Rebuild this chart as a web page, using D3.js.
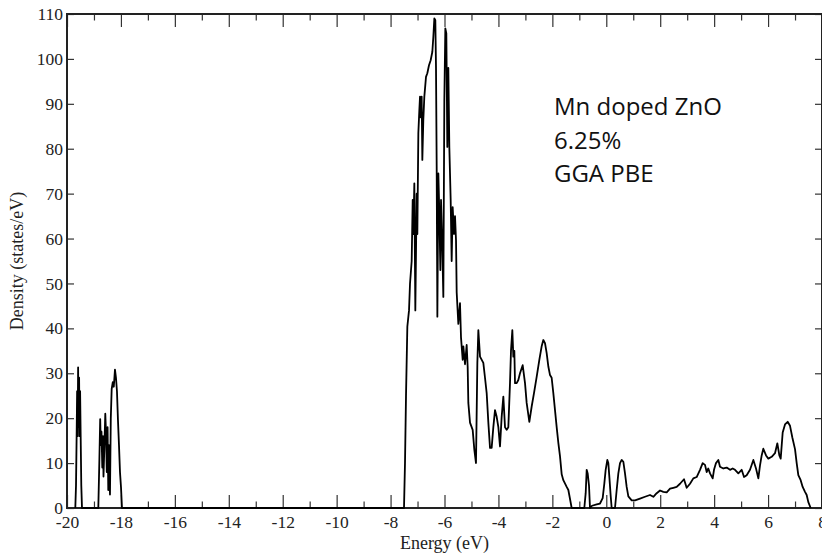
<!DOCTYPE html>
<html>
<head>
<meta charset="utf-8">
<script src="https://cdn.jsdelivr.net/npm/d3@7"></script>
<style>
  body { margin: 0; background: #fff; }
  .tick text { font-family: "Liberation Serif", serif; font-size: 17.5px; fill: #222; }
  .tick line { stroke: #333; stroke-width: 1.2; }
  .title { font-family: "Liberation Serif", serif; font-size: 18px; fill: #222; }
  .note { font-family: "Open Sans", sans-serif; font-size: 24px; fill: #111; }
</style>
</head>
<body>
<div id="chart"></div>
<script>
// DOS curve (energy in eV, density in states/eV)
const energy = [
  -19.692, -19.666, -19.644, -19.625, -19.607, -19.588, -19.57, -19.551, -19.533, -19.514, -19.492, -19.47, -19.444,
  -18.839, -18.802, -18.769, -18.747, -18.721, -18.691, -18.665, -18.647, -18.617, -18.58, -18.554, -18.525,
  -18.495, -18.469, -18.443, -18.406, -18.376, -18.343, -18.302, -18.265, -18.221, -18.184, -18.147, -18.11,
  -18.072, -18.035, -17.998, -17.961,
  -7.502, -7.465, -7.428, -7.378, -7.316, -7.279, -7.217, -7.18, -7.156, -7.119, -7.082, -7.032, -7.007,
  -6.97, -6.933, -6.908, -6.884, -6.847, -6.822, -6.785, -6.748, -6.686, -6.637, -6.575, -6.513, -6.451,
  -6.414, -6.377, -6.34, -6.315, -6.29, -6.265, -6.228, -6.191, -6.154, -6.129, -6.093, -6.043, -6.006,
  -5.969, -5.932, -5.895, -5.858, -5.821, -5.771, -5.734, -5.697, -5.647, -5.61, -5.573, -5.548, -5.487,
  -5.425, -5.388, -5.326, -5.301, -5.239, -5.178, -5.141, -5.116, -5.054, -4.955, -4.894, -4.832, -4.782,
  -4.745, -4.683, -4.56, -4.498, -4.436, -4.374, -4.312, -4.251, -4.189, -4.127, -4.065, -4.003, -3.942,
  -3.88, -3.818, -3.756, -3.694, -3.633, -3.571, -3.534, -3.484, -3.447, -3.41, -3.385, -3.323, -3.262,
  -3.2, -3.101, -3.014, -2.953, -2.854, -2.767, -2.681, -2.582, -2.483, -2.397, -2.335, -2.273, -2.211,
  -2.149, -2.087, -2.026, -1.964, -1.902, -1.84, -1.778, -1.716, -1.654, -1.593, -1.469, -1.407, -1.345,
  -1.284,
  -0.815, -0.764, -0.727, -0.69, -0.641, -0.604, -0.53, -0.356, -0.233, -0.134, -0.072, -0.023, 0.039,
  0.076, 0.113, 0.163, 0.2, 0.323, 0.385, 0.447, 0.509, 0.571, 0.632, 0.694, 0.756, 0.818, 0.942, 1.065,
  1.251, 1.436, 1.621, 1.745, 1.869, 1.993, 2.116, 2.24, 2.364, 2.487, 2.611, 2.734, 2.882, 2.981, 3.105,
  3.228, 3.352, 3.476, 3.575, 3.661, 3.723, 3.783, 3.847, 3.946, 3.995, 4.069, 4.155, 4.217, 4.341, 4.465,
  4.588, 4.687, 4.774, 4.897, 5.021, 5.108, 5.207, 5.33, 5.454, 5.553, 5.639, 5.701, 5.763, 5.824, 5.924,
  6.01, 6.134, 6.257, 6.344, 6.418, 6.468, 6.542, 6.628, 6.727, 6.814, 6.9, 6.999, 7.061, 7.122, 7.209,
  7.283, 7.37, 7.432, 7.493, 7.58
];
const density = [
  0, 5, 15.5, 26, 16, 31.3, 18, 29, 16, 26, 15.5, 5, 0,
  0, 10, 19.8, 14, 17, 9, 16, 7, 13, 21, 17, 8,
  18, 4, 14, 3, 20, 26.5, 28, 27, 30.8, 29, 26, 19.6,
  14, 8, 4.7, 0,
  0, 10, 24.8, 40.4, 44, 50, 55, 68.6, 61, 72.3, 44, 70, 61,
  83.5, 88.6, 91.6, 87, 91.6, 77.5, 86.5, 91.6, 96, 96.8, 98.6, 99.7, 101.6,
  104.9, 109, 108.6, 98, 76, 42.6, 74.5, 65.6, 53, 68.6, 61, 47, 90.8,
  106.8, 105.7, 80.4, 98, 80.4, 68.6, 55, 67, 61, 65, 59.6, 48, 41,
  45.6, 38, 33, 36, 32, 36.3, 31.5, 23.4, 19, 17.4, 13, 10, 32.3,
  39.6, 33.7, 32.3, 29, 25.6, 19, 13.4, 13.4, 18, 21.8, 20.3, 18, 13.7,
  20.3, 24.8, 18, 17.4, 18, 27.8, 35, 39.6, 33.7, 35, 27.8, 27.8, 28.5,
  30, 31.8, 27.8, 23.4, 19.2, 22.6, 25.6, 29.2, 33, 36, 37.4, 36.7, 34.5,
  31.5, 29.6, 29, 25.6, 21.8, 18, 14.5, 11.5, 7.5, 6.2, 4.7, 4, 2,
  0,
  0, 3.3, 8.5, 7.7, 5, 0, 0.5, 0.8, 1, 2.2, 5.5, 8.5, 10.7,
  10, 7, 2.7, 0, 0, 4, 7.7, 10, 10.7, 10.3, 7.7, 4.7, 2.6, 1.7, 1.7,
  2.1, 2.5, 2.9, 2.5, 3.3, 3.9, 3.6, 3.5, 4.3, 4.5, 4.7, 5.4, 6.4, 4.5, 5.4,
  6.6, 6.9, 8.5, 10, 9.6, 8, 8.8, 7.7, 6.6, 8.5, 10, 10.7, 9.2, 8.8, 9,
  8.5, 8.8, 8.5, 7.7, 8.5, 6.9, 7.3, 8.5, 10.7, 8.8, 6.6, 9.5, 11.7, 13.2, 11.7,
  11, 11.4, 12.2, 14.4, 11.7, 11, 16.8, 18.6, 19.2, 18.3, 15.7, 13.1, 10, 7.3, 6.2,
  4.7, 3.6, 2.9, 1.3, 0
];

const xMajor = d3.range(-20, 9, 2);
const xMinor = d3.range(-19, 8, 2);
const yMajor = d3.range(0, 111, 10);
const noteLines = ["Mn doped ZnO", "6.25%", "GGA PBE"];

let margin = { top: 14, right: 0, bottom: 45, left: 67 },
  width = 822 - margin.left - margin.right,
  height = 553 - margin.top - margin.bottom;

let svg = d3.select("#chart")
  .append("svg")
  .attr("width", 822)
  .attr("height", 553)
  .append("g")
  .attr("transform", "translate(" + margin.left + "," + margin.top + ")");

let x = d3.scaleLinear().domain([-20, 8]).range([0, width]);
let y = d3.scaleLinear().domain([0, 110]).range([height, 0]);

// bottom axis, ticks pointing inward
svg.append("g")
  .attr("transform", "translate(0," + height + ")")
  .call(d3.axisBottom(x).tickValues(xMajor).tickSize(-13).tickPadding(8)
    .tickFormat(d => String(d)))
  .select(".domain").remove();

svg.append("g")
  .attr("transform", "translate(0," + height + ")")
  .call(d3.axisBottom(x).tickValues(xMinor).tickSize(-6.5).tickFormat(""))
  .select(".domain").remove();

// top axis, no labels
svg.append("g")
  .call(d3.axisTop(x).tickValues(xMajor).tickSize(-13).tickFormat(""))
  .select(".domain").remove();

svg.append("g")
  .call(d3.axisTop(x).tickValues(xMinor).tickSize(-6.5).tickFormat(""))
  .select(".domain").remove();

// left and right axes
svg.append("g")
  .call(d3.axisLeft(y).tickValues(yMajor).tickSize(-7).tickPadding(4)
    .tickFormat(d => String(d)))
  .select(".domain").remove();

svg.append("g")
  .attr("transform", "translate(" + width + ",0)")
  .call(d3.axisRight(y).tickValues(yMajor).tickSize(-7).tickFormat(""))
  .select(".domain").remove();

// frame
svg.append("rect")
  .attr("x", 0)
  .attr("y", 0)
  .attr("width", width)
  .attr("height", height)
  .attr("fill", "none")
  .attr("stroke", "#222")
  .attr("stroke-width", 2);

// the curve
let line = d3.line()
  .x((d, i) => x(energy[i]))
  .y(d => y(d));

svg.append("path")
  .datum(density)
  .attr("fill", "none")
  .attr("stroke", "#000")
  .attr("stroke-width", 1.8)
  .attr("stroke-linejoin", "round")
  .attr("d", line);

// axis titles
svg.append("text")
  .attr("class", "title")
  .attr("text-anchor", "middle")
  .attr("x", x(-6))
  .attr("y", height + 41)
  .text("Energy (eV)");

svg.append("text")
  .attr("class", "title")
  .attr("text-anchor", "middle")
  .attr("transform", "translate(" + (-44) + "," + y(55) + ") rotate(-90)")
  .text("Density (states/eV)");

// note in the upper right
svg.selectAll(".note")
  .data(noteLines)
  .enter()
  .append("text")
  .attr("class", "note")
  .attr("x", x(-1.94))
  .attr("y", (d, i) => y(87.4) + i * 33.5)
  .text(d => d);
</script>
</body>
</html>
